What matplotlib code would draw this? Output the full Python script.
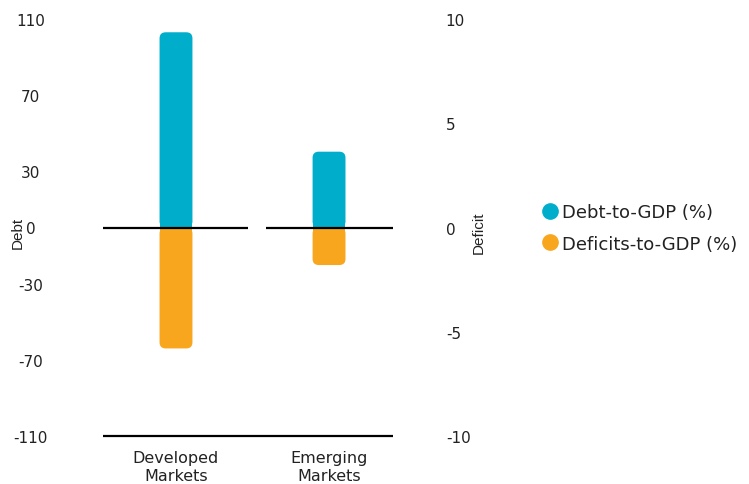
import numpy as np
import matplotlib.pyplot as plt
from matplotlib.patches import FancyBboxPatch, Rectangle
from matplotlib.lines import Line2D

plt.rcParams['font.family'] = ['DejaVu Sans']

# Data
markets = ['Developed\nMarkets', 'Emerging\nMarkets']
debt_to_gdp = [103, 40]          # left axis, %
deficit_to_gdp = [-5.8, -1.8]    # right axis, %

debt_ticks = [110, 70, 30, 0, -30, -70, -110]
deficit_ticks = [10, 5, 0, -5, -10]

teal = '#00AECB'
orange = '#F9A61F'
text_col = '#222222'

fig = plt.figure(figsize=(7.49, 4.85), dpi=100)
ax = fig.add_axes([103 / 749, 48 / 485, 290 / 749, 417 / 485])
ax2 = ax.twinx()

ax.set_xlim(-0.477, 1.418)
ax.set_ylim(-110, 110)
ax2.set_ylim(-10, 10)

x = np.arange(len(markets))
width = 0.215
radius = 0.04


def rounded_bar(axis, xc, val, color):
    # rounded outer end, square end at the baseline
    y0 = min(0, val)
    h = abs(val)
    bbox = axis.get_window_extent()
    xr = np.diff(axis.get_xlim())[0] / bbox.width
    yr = np.diff(axis.get_ylim())[0] / bbox.height
    asp = yr / xr
    axis.add_patch(FancyBboxPatch((xc - width / 2, y0), width, h,
                                  boxstyle=f'round,pad=0,rounding_size={radius}',
                                  mutation_aspect=asp, fc=color, ec='none', zorder=2))
    sq_y = 0 if val > 0 else val / 2
    axis.add_patch(Rectangle((xc - width / 2, sq_y), width, h / 2,
                             fc=color, ec='none', zorder=2))


for xi, d in zip(x, debt_to_gdp):
    rounded_bar(ax, xi, d, teal)
for xi, d in zip(x, deficit_to_gdp):
    rounded_bar(ax2, xi, d, orange)

# zero lines per category and bottom baseline
zero_spans = [(-0.477, 0.47), (0.59, 1.418)]
for a, b in zero_spans:
    ax2.plot([a, b], [0, 0], color='black', lw=1.6, zorder=3, solid_capstyle='butt')
ax.plot(ax.get_xlim(), [-110, -110], color='black', lw=1.6, zorder=3,
        solid_capstyle='butt', clip_on=False)

for a in (ax, ax2):
    for s in a.spines.values():
        s.set_visible(False)

ax.set_xticks(x)
ax.set_xticklabels(markets, fontsize=11.5, color=text_col, linespacing=1.3)
ax.tick_params(axis='x', length=0, pad=10)

ax.set_yticks(debt_ticks)
ax.set_yticklabels([str(t) for t in debt_ticks], fontsize=11, color=text_col)
ax.tick_params(axis='y', length=0, pad=52)
for lab in ax.get_yticklabels():
    lab.set_horizontalalignment('center')

ax2.set_yticks(deficit_ticks)
ax2.set_yticklabels([str(t) for t in deficit_ticks], fontsize=11, color=text_col)
ax2.tick_params(axis='y', length=0, pad=38)

fig.text(18 / 749, 1 - 233 / 485, 'Debt', rotation=90, ha='center', va='center',
         fontsize=11, color=text_col, family=['Liberation Sans', 'DejaVu Sans'])
fig.text(479 / 749, 1 - 233 / 485, 'Deficit', rotation=90, ha='center', va='center',
         fontsize=11, color=text_col, family=['Liberation Sans', 'DejaVu Sans'])

handles = [Line2D([], [], marker='o', ls='none', ms=11, color=teal, label='Debt-to-GDP (%)'),
           Line2D([], [], marker='o', ls='none', ms=11, color=orange, label='Deficits-to-GDP (%)')]
fig.legend(handles=handles, loc='center left', bbox_to_anchor=(523 / 749, 1 - 229 / 485),
           frameon=False, fontsize=13, labelcolor=text_col, handletextpad=0.05,
           handlelength=1.2, labelspacing=0.75)

fig.savefig('out.png', dpi=100)
